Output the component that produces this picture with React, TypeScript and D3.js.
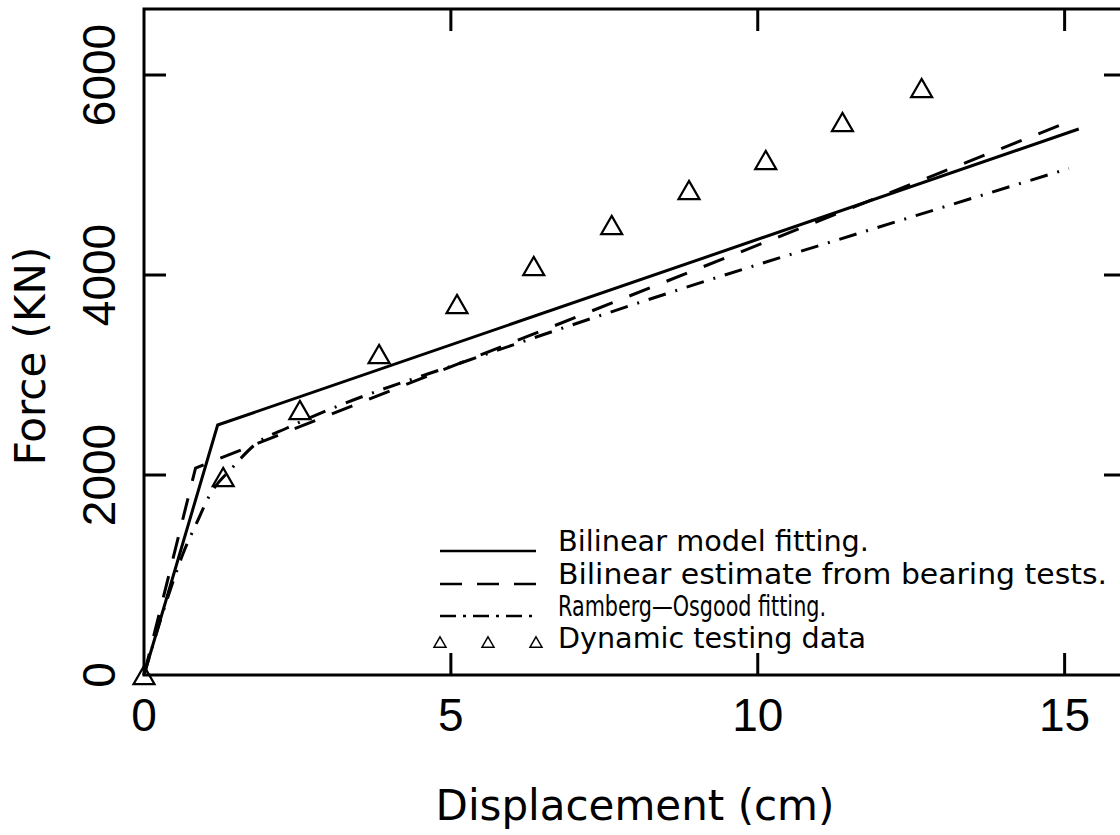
import React from "react";
import * as d3 from "d3";

// ---- data (displacement in cm, force in kN) ----
const bilinearFitX = [0, 1.2, 15.23];
const bilinearFitY = [0, 2500, 5460];

const bilinearBearingX = [0, 0.84, 15.1];
const bilinearBearingY = [0, 2070, 5540];

const rambergX = [0, 0.4, 0.64, 0.88, 1.05, 1.45, 1.84, 2.33, 3.0, 5.3, 8.8, 11.82, 15.07];
const rambergY = [0, 800, 1220, 1550, 1775, 2080, 2320, 2470, 2650, 3150, 3870, 4450, 5065];

const dynamicX = [0, 1.29, 2.54, 3.83, 5.1, 6.35, 7.62, 8.88, 10.13, 11.38, 12.67];
const dynamicY = [0, 1980, 2650, 3210, 3710, 4090, 4500, 4850, 5150, 5530, 5870];

const xTicks = [0, 5, 10, 15];
const yTicks = [0, 2000, 4000, 6000];

const legendLabels = [
  "Bilinear model fitting.",
  "Bilinear estimate from bearing tests.",
  "Ramberg\u2014Osgood fitting.",
  "Dynamic testing data",
];

const W = 1120;
const H = 835;
const FONT = "'DejaVu Sans', 'Liberation Sans', sans-serif";
const TICK_FONT = "'Liberation Sans', Arial, sans-serif";

function tri(w: number) {
  const h = w * 0.866;
  return `M0,${-h / 2}L${w / 2},${h / 2}L${-w / 2},${h / 2}Z`;
}

export default function App() {
  const x = d3.scaleLinear().domain([0, 16]).range([144, 1126]);
  const y = d3.scaleLinear().domain([0, 6660]).range([675, 9]);

  const lin = d3
    .line<[number, number]>()
    .x((d) => x(d[0]))
    .y((d) => y(d[1]));
  const smooth = d3
    .line<[number, number]>()
    .x((d) => x(d[0]))
    .y((d) => y(d[1]))
    .curve(d3.curveMonotoneX);

  const zip = (a: number[], b: number[]) => a.map((v, i) => [v, b[i]] as [number, number]);

  const [x0, x1] = x.range();
  const [y0, y1] = y.range();
  const tickLen = 22;

  const legX0 = 440;
  const legX1 = 536;
  const legTextX = 558;
  const legBase = [551, 584, 616, 648];
  const legWidths = [311, 549, 268, 308];

  return (
    <svg
      width={W}
      height={H}
      style={{ position: "absolute", left: 0, top: 0, background: "#fff" }}
      fontFamily={FONT}
    >
      <rect x={0} y={0} width={W} height={H} fill="#fff" />
      {/* frame */}
      <rect x={x0} y={y1} width={x1 - x0} height={y0 - y1} fill="none" stroke="#000" strokeWidth={3} />
      {/* x ticks bottom & top */}
      {xTicks.filter((t) => t > 0).map((t) => (
        <g key={"xt" + t}>
          <line x1={x(t)} x2={x(t)} y1={y0} y2={y0 - tickLen} stroke="#000" strokeWidth={3} />
          <line x1={x(t)} x2={x(t)} y1={y1} y2={y1 + tickLen} stroke="#000" strokeWidth={3} />
        </g>
      ))}
      {/* y ticks left & right */}
      {yTicks.filter((t) => t > 0).map((t) => (
        <g key={"yt" + t}>
          <line x1={x0} x2={x0 + tickLen} y1={y(t)} y2={y(t)} stroke="#000" strokeWidth={3} />
          <line x1={x1} x2={x1 - tickLen} y1={y(t)} y2={y(t)} stroke="#000" strokeWidth={3} />
        </g>
      ))}
      {/* x tick labels */}
      {xTicks.map((t) => (
        <text key={"xl" + t} x={x(t)} y={731} fontSize={46} fontFamily={TICK_FONT} textAnchor="middle">
          {t}
        </text>
      ))}
      {/* y tick labels */}
      {yTicks.map((t) => (
        <text
          key={"yl" + t}
          transform={`translate(115,${y(t)}) rotate(-90)`}
          fontSize={46}
          fontFamily={TICK_FONT}
          textAnchor="middle"
        >
          {t}
        </text>
      ))}
      {/* axis titles */}
      <text x={(x0 + x1) / 2} y={820} fontSize={42} textAnchor="middle">
        Displacement (cm)
      </text>
      <text transform={`translate(45,356) rotate(-90)`} fontSize={42} textAnchor="middle">
        Force (KN)
      </text>

      {/* series */}
      <path d={lin(zip(bilinearFitX, bilinearFitY)) || ""} fill="none" stroke="#000" strokeWidth={3} />
      <path
        d={lin(zip(bilinearBearingX, bilinearBearingY)) || ""}
        fill="none"
        stroke="#000"
        strokeWidth={3}
        strokeDasharray="22,18"
      />
      <path
        d={smooth(zip(rambergX, rambergY)) || ""}
        fill="none"
        stroke="#000"
        strokeWidth={3}
        strokeDasharray="18,10,2,10"
      />
      {dynamicX.map((v, i) => (
        <path
          key={"d" + i}
          d={tri(21)}
          transform={`translate(${x(v)},${y(dynamicY[i])})`}
          fill="none"
          stroke="#000"
          strokeWidth={2.2}
        />
      ))}

      {/* legend */}
      <line x1={legX0} x2={legX1} y1={legBase[0]} y2={legBase[0]} stroke="#000" strokeWidth={2.5} />
      <line
        x1={legX0}
        x2={legX1}
        y1={legBase[1]}
        y2={legBase[1]}
        stroke="#000"
        strokeWidth={2.5}
        strokeDasharray="22,15"
      />
      <line
        x1={legX0}
        x2={legX1}
        y1={legBase[2]}
        y2={legBase[2]}
        stroke="#000"
        strokeWidth={2.5}
        strokeDasharray="16,7,3,7"
      />
      {[legX0, (legX0 + legX1) / 2, legX1].map((lx, i) => (
        <path
          key={"lt" + i}
          d={tri(12)}
          transform={`translate(${lx},${legBase[3] - 6})`}
          fill="none"
          stroke="#000"
          strokeWidth={1.5}
        />
      ))}
      {legendLabels.map((l, i) => (
        <text
          key={"ll" + i}
          x={legTextX}
          y={legBase[i]}
          fontSize={28}
          textLength={legWidths[i]}
          lengthAdjust="spacingAndGlyphs"
        >
          {l}
        </text>
      ))}
    </svg>
  );
}
